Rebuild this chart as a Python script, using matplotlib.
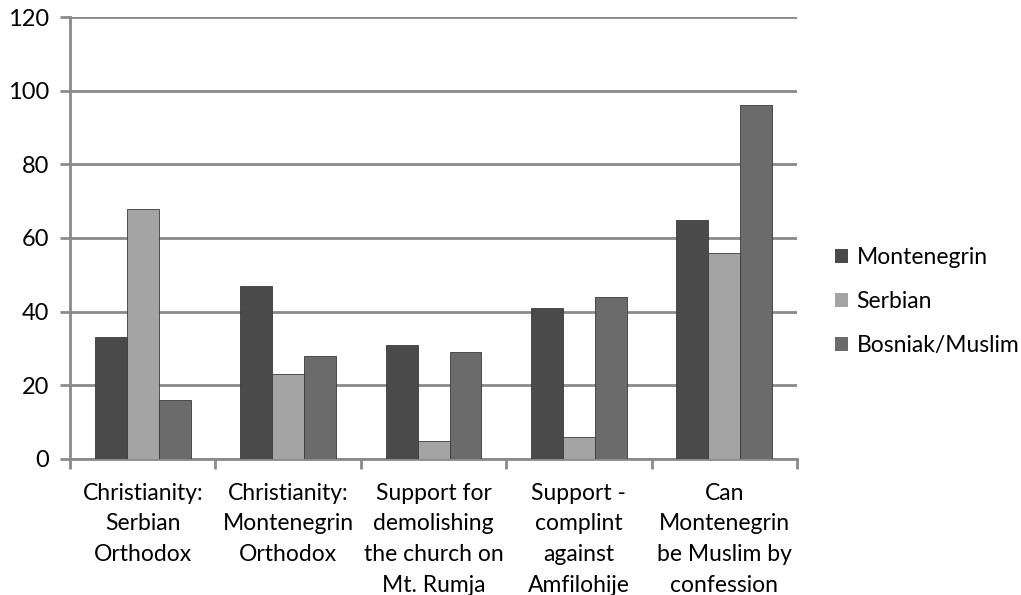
import matplotlib
matplotlib.use("Agg")
import matplotlib.pyplot as plt
import numpy as np
from matplotlib.patches import Patch

categories = [
    "Christianity:\nSerbian\nOrthodox",
    "Christianity:\nMontenegrin\nOrthodox",
    "Support for\ndemolishing\nthe church on\nMt. Rumja",
    "Support -\ncomplint\nagainst\nAmfilohije",
    "Can\nMontenegrin\nbe Muslim by\nconfession",
]
series_names = ["Montenegrin", "Serbian", "Bosniak/Muslim"]
montenegrin = [33, 47, 31, 41, 65]
serbian = [68, 23, 5, 6, 56]
bosniak = [16, 28, 29, 44, 96]
yticks = [0, 20, 40, 60, 80, 100, 120]

colors = ["#4a4a4a", "#a4a4a4", "#6b6b6b"]
grid_color = "#8a8a8a"

plt.rcParams["font.family"] = ["Lato", "DejaVu Sans"]

fig = plt.figure(figsize=(10.21, 5.95), dpi=100)
ax = fig.add_axes([0.0686, 0.2286, 0.712, 0.7428])

x = np.arange(len(categories))
width = 0.22
values = [montenegrin, serbian, bosniak]
for i, (vals, col) in enumerate(zip(values, colors)):
    ax.bar(x + (i - 1) * width, vals, width, color=col, edgecolor="#3a3a3a",
           linewidth=0.6, zorder=3)

ax.set_xlim(-0.5, len(categories) - 0.5)
ax.set_ylim(0, 120)
ax.set_yticks(yticks)
ax.set_yticklabels([str(t) for t in yticks], fontsize=17)
ax.yaxis.grid(True, color=grid_color, linewidth=2, zorder=0)
ax.tick_params(axis="y", length=7, width=2, color=grid_color, pad=8)

ax.set_xticks(np.arange(-0.5, len(categories), 1.0))
ax.set_xticklabels([])
ax.set_xticks(x, minor=True)
ax.set_xticklabels(categories, minor=True, fontsize=16.5, linespacing=1.58,
                   va="top")
ax.tick_params(axis="x", which="major", length=7, width=2, color=grid_color)
ax.tick_params(axis="x", which="minor", length=0, pad=17)

for side in ["top", "right"]:
    ax.spines[side].set_visible(False)
for side in ["left", "bottom"]:
    ax.spines[side].set_color(grid_color)
    ax.spines[side].set_linewidth(2)

handles = [Patch(facecolor=c, edgecolor="none") for c in colors]
fig.legend(handles, series_names, loc="center left",
           bbox_to_anchor=(0.798, 0.493), frameon=False, fontsize=16.5,
           handlelength=0.57, handleheight=0.57, handletextpad=0.35,
           labelspacing=1.0)

fig.savefig("out.png", dpi=100, facecolor="white")
